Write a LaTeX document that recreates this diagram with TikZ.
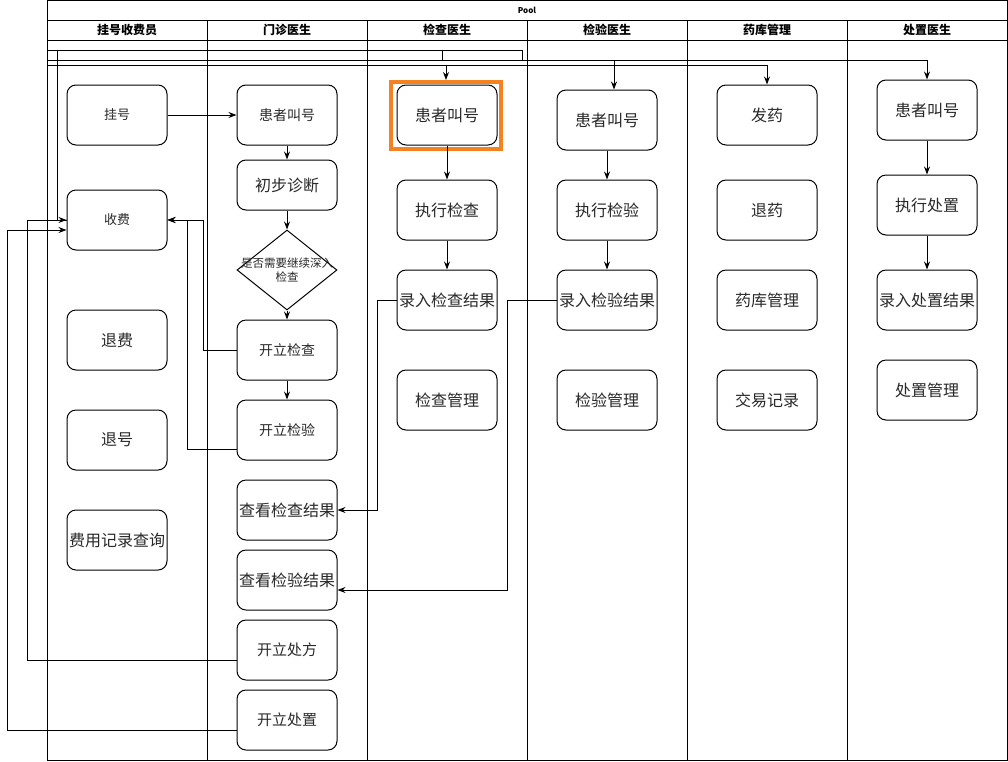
\documentclass[tikz,border=0pt]{standalone}
\usepackage{fontspec}
\setmainfont{Noto Sans CJK SC}
\usetikzlibrary{arrows.meta,shapes.geometric}
\definecolor{hlorange}{RGB}{245,130,32}
\definecolor{txtgray}{RGB}{40,40,40}
\tikzset{
  lanebox/.style={draw, rounded corners=9pt, minimum width=100pt, minimum height=60pt, inner sep=0pt, line width=1pt, text=txtgray, font=\fontsize{16}{19}\selectfont},
  txtsm/.style={font=\fontsize{13}{15}\selectfont},
  txtmd/.style={font=\fontsize{14}{17}\selectfont},
  flow/.style={line width=1pt, -{Stealth[length=8pt,width=6pt]}},
  wire/.style={line width=1pt},
  lanetitle/.style={font=\bfseries\fontsize{12}{14}\selectfont}
}
\begin{document}
\begin{tikzpicture}[x=1pt, y=-1pt]
  \useasboundingbox (0,0) rectangle (1008,761);
  % pool, header rows and lanes
  \draw[wire] (47,0) rectangle (1007,760);
  \draw[wire] (47,20) -- (1007,20);
  \draw[wire] (47,40) -- (1007,40);
  \foreach \x in {207,367,527,687,847} \draw[wire] (\x,20) -- (\x,760);
  \node[font=\bfseries\fontsize{8}{9}\selectfont] (pool) at (527,10) {Pool};
  \foreach \x/\t [count=\i] in {127/挂号收费员, 287/门诊医生, 447/检查医生, 607/检验医生, 767/药库管理, 927/处置医生}
    \node[lanetitle] (lane\i) at (\x,30) {\t};

  % 挂号收费员
  \node[lanebox, txtsm] (gh) at (117,115) {挂号};
  \node[lanebox, txtsm] (sf) at (117,220) {收费};
  \node[lanebox] (tf) at (117,340) {退费};
  \node[lanebox] (th) at (117,440) {退号};
  \node[lanebox] (fyjl) at (117,540) {费用记录查询};

  % 门诊医生
  \node[lanebox, txtmd] (mzjh) at (287,115) {患者叫号};
  \node[lanebox, minimum height=50pt] (cbzd) at (287,185) {初步诊断};
  \node[diamond, draw, line width=1pt, aspect=1.25, minimum width=100pt, minimum height=80pt, inner sep=0pt,
    label={[align=center, text=txtgray, font=\fontsize{11.5}{14}\selectfont]center:是否需要继续深入\\检查}] (sfjc) at (287,270) {};
  \node[lanebox, txtmd] (kljc) at (287,350) {开立检查};
  \node[lanebox, txtmd] (kljy) at (287,430) {开立检验};
  \node[lanebox] (ckjc) at (287,510) {查看检查结果};
  \node[lanebox] (ckjy) at (287,580) {查看检验结果};
  \node[lanebox, font=\fontsize{15}{18}\selectfont] (klcf) at (287,650) {开立处方};
  \node[lanebox, font=\fontsize{15}{18}\selectfont] (klcz) at (287,720) {开立处置};

  % 检查医生
  \node[draw=hlorange, line width=4pt, minimum width=110pt, minimum height=67pt, inner sep=0pt] (hl) at (446,115.5) {};
  \node[lanebox] (jcjh) at (447,115) {患者叫号};
  \node[lanebox] (zxjc) at (447,210) {执行检查};
  \node[lanebox] (lrjc) at (447,300) {录入检查结果};
  \node[lanebox] (jcgl) at (447,400) {检查管理};

  % 检验医生
  \node[lanebox] (jyjh) at (607,120) {患者叫号};
  \node[lanebox] (zxjy) at (607,210) {执行检验};
  \node[lanebox] (lrjy) at (607,300) {录入检验结果};
  \node[lanebox] (jygl) at (607,400) {检验管理};

  % 药库管理
  \node[lanebox] (fy) at (767,115) {发药};
  \node[lanebox] (ty) at (767,210) {退药};
  \node[lanebox] (ykgl) at (767,300) {药库管理};
  \node[lanebox] (jyjl) at (767,400) {交易记录};

  % 处置医生
  \node[lanebox] (czjh) at (927,110) {患者叫号};
  \node[lanebox] (zxcz) at (927,205) {执行处置};
  \node[lanebox] (lrcz) at (927,300) {录入处置结果};
  \node[lanebox] (czgl) at (927,390) {处置管理};

  % flows inside the lanes
  \draw[flow] (gh) -- (mzjh);
  \draw[flow] (mzjh) -- (cbzd);
  \draw[flow] (cbzd) -- (sfjc);
  \draw[flow] (sfjc) -- (kljc);
  \draw[flow] (kljc) -- (kljy);
  \draw[flow] (jcjh) -- (zxjc);
  \draw[flow] (zxjc) -- (lrjc);
  \draw[flow] (jyjh) -- (zxjy);
  \draw[flow] (zxjy) -- (lrjy);
  \draw[flow] (czjh) -- (zxcz);
  \draw[flow] (zxcz) -- (lrcz);

  % back to 收费
  \draw[flow] (kljc.west) -| (203,220) -- (sf.east);
  \draw[flow] ([yshift=-19pt]kljy.west) -| (187,220) -- (sf.east);
  \draw[flow] ([yshift=-10pt]klcf.west) -| (27,220) -- (sf.west);
  \draw[flow] ([yshift=-10pt]klcz.west) -| (7,230) -- ([yshift=-10pt]sf.west);

  % results
  \draw[flow] (lrjc.west) -| (377,510) -- (ckjc.east);
  \draw[flow] (lrjy.west) -| (507,590) -- ([yshift=-10pt]ckjy.east);

  % from 收费 along the top
  \coordinate (ja) at (57,50);
  \coordinate (jb) at (442,60);
  \coordinate (jc) at (47,60);
  \coordinate (jd) at (47,65);
  \draw[wire] (47,50) -- (ja);
  \draw[flow] (sf.west) -| (ja) -- (442,50) -- (jb) -| ([xshift=7pt]jyjh.north);
  \draw[wire] (442,50) -- (522,50) -- (522,60);
  \draw[flow] (jc) -| (czjh.north);
  \draw[flow] (jd) -| (fy.north);
  \draw[flow] (hl.north |- jd) -- (hl.north);
\end{tikzpicture}
\end{document}
